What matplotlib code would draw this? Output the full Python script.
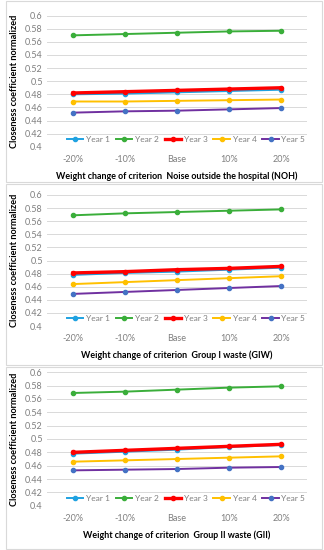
import matplotlib
matplotlib.use("Agg")
import matplotlib.pyplot as plt
from matplotlib.patches import Rectangle

plt.rcParams['font.family'] = ['Lato', 'DejaVu Sans']

# ---------------------------------------------
# data
# ---------------------------------------------
categories = ["-20%", "-10%", "Base", "10%", "20%"]
series_names = ["Year 1", "Year 2", "Year 3", "Year 4", "Year 5"]

noh_values = [
    [0.480, 0.481, 0.483, 0.485, 0.487],
    [0.570, 0.572, 0.574, 0.576, 0.577],
    [0.482, 0.484, 0.486, 0.488, 0.490],
    [0.469, 0.469, 0.470, 0.471, 0.472],
    [0.452, 0.454, 0.455, 0.457, 0.459],
]
giw_values = [
    [0.478, 0.481, 0.483, 0.486, 0.489],
    [0.569, 0.572, 0.574, 0.576, 0.578],
    [0.481, 0.483, 0.486, 0.488, 0.491],
    [0.464, 0.467, 0.470, 0.473, 0.476],
    [0.449, 0.452, 0.455, 0.458, 0.461],
]
gii_values = [
    [0.478, 0.481, 0.484, 0.488, 0.491],
    [0.569, 0.571, 0.574, 0.577, 0.579],
    [0.480, 0.483, 0.486, 0.489, 0.492],
    [0.466, 0.468, 0.470, 0.472, 0.474],
    [0.453, 0.454, 0.455, 0.457, 0.458],
]

xlabels = [
    "Weight change of criterion  Noise outside the hospital (NOH)",
    "Weight change of criterion  Group I waste (GIW)",
    "Weight change of criterion  Group II waste (GII)",
]
yticks = [0.4, 0.42, 0.44, 0.46, 0.48, 0.5, 0.52, 0.54, 0.56, 0.58, 0.6]
ytick_labels = ["0.4", "0.42", "0.44", "0.46", "0.48", "0.5",
                "0.52", "0.54", "0.56", "0.58", "0.6"]

line_colors = ["#1FA2E1", "#3AAE3A", "#FF0000", "#FFC000", "#7030A0"]
marker_colors = ["#1FA2E1", "#3AAE3A", "#FF0000", "#FFC000", "#4472C4"]
line_widths = [1.4, 1.4, 2.4, 1.4, 1.4]

W, H = 324, 550
fig = plt.figure(figsize=(W / 100, H / 100), dpi=100)

# panel boxes (pixel top, bottom) and axes (pixel top, bottom)
boxes = [(1, 182), (184, 365), (367, 549)]
axes_px = [(15.7, 146.7), (195, 326), (372.3, 505.7)]
panels = [noh_values, giw_values, gii_values]


def draw_panel(box, apx, values, xlabel):
    # light frame round each chart
    fig.patches.append(Rectangle((6 / W, 1 - box[1] / H), 316 / W, (box[1] - box[0]) / H,
                                 transform=fig.transFigure, fill=False,
                                 edgecolor="#D9D9D9", linewidth=0.8))
    ax = fig.add_axes([47 / W, 1 - apx[1] / H, 260 / W, (apx[1] - apx[0]) / H])
    x = range(len(categories))
    for i, name in enumerate(series_names):
        ax.plot(x, values[i], color=line_colors[i], lw=line_widths[i],
                marker="o", ms=3.0, mfc=marker_colors[i], mec=marker_colors[i],
                label=name, zorder=3 + (i == 2))
    ax.set_xlim(-0.5, len(categories) - 0.5)
    ax.set_ylim(0.4, 0.6)
    ax.set_yticks(yticks)
    ax.set_yticklabels(ytick_labels)
    ax.set_xticks(list(x))
    ax.set_xticklabels(categories)
    ax.tick_params(length=0, labelsize=6.5, labelcolor="#7F7F7F", pad=3)
    ax.tick_params(axis="x", pad=6)
    ax.grid(axis="y", color="#D9D9D9", lw=0.7)
    ax.set_axisbelow(True)
    for s in ax.spines.values():
        s.set_visible(False)
    ax.set_ylabel("Closeness coefficient normalized", fontsize=6.6, fontweight="bold",
                  labelpad=4)
    ax.set_xlabel(xlabel, fontsize=6.4, fontweight="bold", labelpad=5)
    leg = ax.legend(loc="center", bbox_to_anchor=(0.535, 0.055), ncol=5, frameon=False,
                    fontsize=6, handlelength=2.0, handletextpad=0.3, columnspacing=0.7,
                    borderaxespad=0)
    for t in leg.get_texts():
        t.set_color("#7F7F7F")


for box, apx, vals, xl in zip(boxes, axes_px, panels, xlabels):
    draw_panel(box, apx, vals, xl)

fig.savefig("out.png", dpi=100)
